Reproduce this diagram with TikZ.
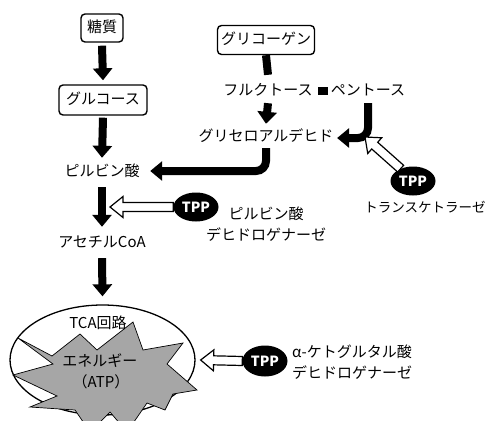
\documentclass[tikz,border=0pt]{standalone}
\usepackage{fontspec}
\newfontfamily\jp{Noto Sans CJK JP}
\usetikzlibrary{arrows.meta,calc,shapes.geometric}
\definecolor{stargray}{RGB}{166,166,166}
\newcommand\openarr[3][]{%
  \coordinate (oaP) at ($(#3)!13pt!(#2)$);
  \draw[line width=1.2pt, fill=white, line join=miter, #1] (#3)
    -- ($(oaP)!10.5pt!90:(#2)$)
    -- ($(oaP)!4.5pt!90:(#2)$)
    -- ($(#2)!4.5pt!-90:(#3)$)
    -- ($(#2)!4.5pt!90:(#3)$)
    -- ($(oaP)!4.5pt!-90:(#2)$)
    -- ($(oaP)!10.5pt!-90:(#2)$)
    -- cycle;}
\begin{document}
\begin{tikzpicture}[x=1pt,y=-1pt,
  txt/.style={font=\jp\fontsize{15}{20}\selectfont, inner sep=0pt, text height=11pt, text depth=2pt},
  txttwo/.style={font=\jp\fontsize{15}{21}\selectfont, inner sep=0pt},
  tbox/.style={txt, draw, rounded corners=4pt, line width=1.4pt},
  tpp/.style={ellipse, fill=black, text=white, font=\jp\bfseries\fontsize{14}{16}\selectfont, inner sep=0pt, minimum width=45pt, minimum height=29pt},
  bigarr/.style={line width=8pt, -{Triangle[length=12pt,width=19pt]}},
  bar/.style={line width=8pt},
]
\useasboundingbox (0,0) rectangle (491,421);
\fill[white] (0,0) rectangle (491,421);

% left column
\node[tbox, minimum width=42pt, minimum height=28pt] (sugar) at (102,28) {糖質};
\node[tbox, minimum width=88pt, minimum height=30pt] (glc) at (103,100) {グルコース};
\node[txt] (pyr) at (102,172) {ピルビン酸};
\node[txt] (acoa) at (102,243) {アセチルCoA};

% TCA ellipse and star
\node[draw, ellipse, line width=1.3pt, minimum width=185pt, minimum height=110pt, inner sep=0pt] (tca) at (102.5,360) {};
\draw[fill=stargray, line width=0.7pt, line join=miter]
  (18,338) -- (52,356) -- (80,334) -- (97,350) -- (133,322) -- (143,350)
  -- (183,343) -- (167,364) -- (197,390) -- (173,394) -- (165,410)
  -- (147,403) -- (127,432) -- (110,412) -- (90,432) -- (75,410)
  -- (30,407) -- (57,396) -- (13,375) -- (53,364) -- cycle;
\node[txt] (tcal) at (98,324) {TCA回路};
\node[txt] (ene) at (100,362) {エネルギー};
\node[txt] (atp) at (101,383) {（ATP）};

% right part
\node[tbox, minimum width=97pt, minimum height=29pt] (glycogen) at (266,40) {グリコーゲン};
\node[txt] (fru) at (268,91) {フルクトース};
\node[fill, minimum width=10pt, minimum height=8pt, inner sep=0pt] (sq) at (323,91) {};
\node[txt] (pen) at (368,91) {ペントース};
\node[txt] (gald) at (266,137) {グリセロアルデヒド};
\node[tpp] (tpp1) at (413,181) {TPP};
\node[txt, font=\jp\fontsize{13.5}{18}\selectfont] (tk) at (425,208) {トランスケトラーゼ};
\node[tpp] (tpp2) at (196,207) {TPP};
\node[txttwo, align=center] (pdh) at (266,224) {ピルビン酸\\デヒドロゲナーゼ};
\node[tpp, minimum height=31pt] (tpp3) at (265,361) {TPP};
\node[txttwo, align=left, anchor=west] (akg) at (292,362) {α-ケトグルタル酸\\デヒドロゲナーゼ};

\coordinate (tipA) at (110,207);
\coordinate (tipB) at (365,137);

% thick arrows
\draw[bigarr] ([yshift=-3pt]sugar.south) -- ([yshift=4pt]glc.north);
\draw[bigarr] ([yshift=-2pt]glc.south) -- ([yshift=7.5pt]pyr.north);
\draw[bigarr] ([yshift=-8.5pt]pyr.south) -- ([yshift=9.5pt]acoa.north);
\draw[bigarr] ([yshift=-8.5pt]acoa.south) -- ([yshift=8pt]tca.north);
\draw[bar] ([yshift=0pt]glycogen.south) -- ([yshift=9.5pt]fru.north);
\draw[bigarr] ([yshift=-5.5pt]fru.south) -- ([yshift=6.5pt]gald.north);
\draw[bigarr, rounded corners=10pt] ([yshift=-5.5pt]pen.south) |- ([xshift=3.5pt,yshift=-1pt]gald.east);
\draw[bigarr, rounded corners=10pt] ([yshift=-4.5pt]gald.south) |- ([xshift=10.5pt,yshift=1pt]pyr.east);

% open arrows
\openarr{tpp2.west}{tipA}
\openarr{tpp1.135}{tipB}
\openarr{tpp3.west}{$(tca.east)+(5pt,0)$}
\end{tikzpicture}
\end{document}
